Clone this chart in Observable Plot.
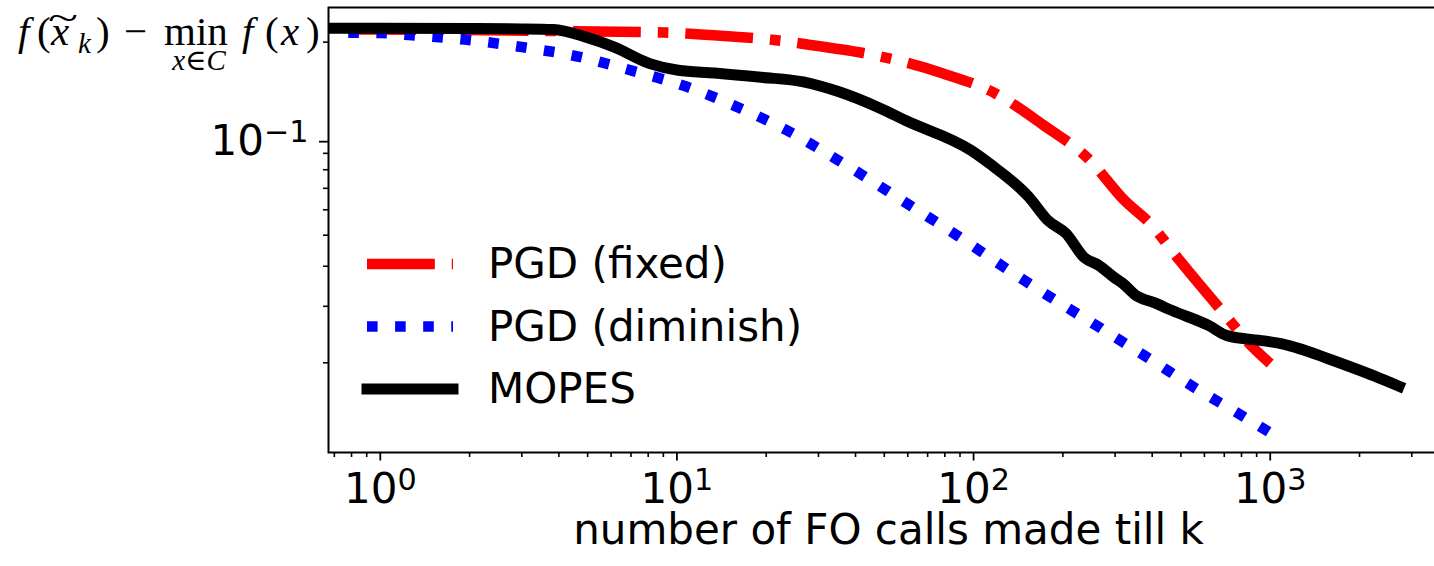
<!DOCTYPE html>
<html>
<head>
<meta charset="utf-8">
<script src="https://cdn.jsdelivr.net/npm/d3@7"></script>
<script src="https://cdn.jsdelivr.net/npm/@observablehq/plot@0.6"></script>
<style>
  html, body { margin: 0; padding: 0; background: white; overflow: hidden; width: 1434px; height: 566px; }
  #chart { position: relative; width: 1434px; height: 566px; overflow: hidden; }
  #chart svg { max-width: none !important; display: block; }
</style>
</head>
<body>
<div id="chart"></div>
<script>
// ---- data ----
const seriesNames = ["PGD (fixed)", "PGD (diminish)", "MOPES"];

const pgdFixedX = [0.78, 1, 4.52, 9.06, 14.0, 21.6, 33.6, 42.5, 51.5, 78.4, 118, 172, 243, 323, 394, 495, 687, 876, 1000];
const pgdFixedY = [0.219, 0.219, 0.2163, 0.2143, 0.2094, 0.2028, 0.1914, 0.1849, 0.1783, 0.160, 0.1386, 0.1102, 0.0868, 0.0641, 0.0543, 0.0417, 0.0290, 0.0223, 0.0199];

const pgdDimX = [0.78, 1, 1.25, 1.93, 3.0, 4.58, 7.05, 10.7, 16.0, 23.5, 34.7, 61.1, 88.0, 127, 183, 267, 388, 558, 817, 1000];
const pgdDimY = [0.214, 0.2136, 0.2105, 0.2037, 0.193, 0.1808, 0.163, 0.1456, 0.1255, 0.1061, 0.0860, 0.0619, 0.0499, 0.0397, 0.0319, 0.0257, 0.0207, 0.0167, 0.01355, 0.0121];

const mopesX = [0.5, 1, 2, 3, 3.83, 4.91, 6.15, 8.1, 10.1, 13.4, 19.2, 26.7, 30.6, 35.2, 48.8, 58.8, 98.1, 113, 154, 178, 205, 236, 265, 298, 319, 353, 406, 467, 622, 716, 953, 1097, 1262, 1543, 2240, 2718];
const mopesY = [0.221, 0.221, 0.2205, 0.22, 0.219, 0.2077, 0.193, 0.1714, 0.1634, 0.1603, 0.1554, 0.1503, 0.1457, 0.140, 0.124, 0.1141, 0.0919, 0.0837, 0.0656, 0.0556, 0.0506, 0.0426, 0.0402, 0.0369, 0.0353, 0.0324, 0.0308, 0.0291, 0.0261, 0.0243, 0.0234, 0.0229, 0.0221, 0.0207, 0.0182, 0.0169];

const xMajorTicks = [1, 10, 100, 1000];
const xMajorLabels = ["10^0", "10^1", "10^2", "10^3"];
const xMinorTicks = [0.7, 0.8, 0.9, 2, 3, 4, 5, 6, 7, 8, 9, 20, 30, 40, 50, 60, 70, 80, 90, 200, 300, 400, 500, 600, 700, 800, 900, 2000, 3000];
const yMajorTicks = [0.1];
const yMajorLabels = ["10^−1"];
const yMinorTicks = [0.02, 0.03, 0.04, 0.05, 0.06, 0.07, 0.08, 0.09, 0.2];
const xLabel = "number of FO calls made till k";

// ---- build tables ----
const zip = (xs, ys) => xs.map((x, i) => ({x, y: ys[i]}));
const fixedData = zip(pgdFixedX, pgdFixedY);
const dimData = zip(pgdDimX, pgdDimY);
const mopesData = zip(mopesX, mopesY);

const LW = 10.6;
const styles = [
  {stroke: "#ff0000", strokeWidth: LW, dash: `${6.4*LW},${1.6*LW},${1.0*LW},${1.6*LW}`, cap: "butt"},
  {stroke: "#0000ff", strokeWidth: LW, dash: `${1*LW},${1.65*LW}`, cap: "butt"},
  {stroke: "#000000", strokeWidth: 11, dash: null, cap: "square"}
];

const majorFmt = (labels, ticks) => d => labels[ticks.indexOf(d)] ?? "";

const plot = Plot.plot({
  width: 1448,
  height: 566,
  marginLeft: 328,
  marginRight: 0,
  marginTop: 7,
  marginBottom: 114,
  style: {fontFamily: "'DejaVu Sans', sans-serif", fontSize: "42px", background: "white", color: "black", maxWidth: "none"},
  x: {type: "log", domain: [0.669, 3990]},
  y: {type: "log", domain: [0.0105, 0.2565]},
  marks: [
    Plot.line(fixedData, {x: "x", y: "y", stroke: styles[0].stroke, strokeWidth: styles[0].strokeWidth, strokeDasharray: styles[0].dash, strokeLinecap: "butt", strokeLinejoin: "round", curve: "monotone-x", clip: true}),
    Plot.line(dimData, {x: "x", y: "y", stroke: styles[1].stroke, strokeWidth: styles[1].strokeWidth, strokeDasharray: styles[1].dash, strokeLinecap: "butt", strokeLinejoin: "round", curve: "monotone-x", clip: true}),
    Plot.line(mopesData, {x: "x", y: "y", stroke: styles[2].stroke, strokeWidth: styles[2].strokeWidth, strokeLinecap: "square", strokeLinejoin: "round", curve: "monotone-x", clip: true}),
    Plot.frame({stroke: "black", strokeWidth: 2}),
    Plot.axisX(xMinorTicks, {tickSize: 5, strokeWidth: 1.6, tickFormat: () => "", label: null}),
    Plot.axisX(xMajorTicks, {tickSize: 8.5, strokeWidth: 1.8, tickPadding: 12, tickFormat: majorFmt(xMajorLabels, xMajorTicks), label: null}),
    Plot.axisY(yMinorTicks, {tickSize: 5, strokeWidth: 1.6, tickFormat: () => "", label: null}),
    Plot.axisY(yMajorTicks, {tickSize: 9, strokeWidth: 1.8, tickPadding: 11, tickFormat: majorFmt(yMajorLabels, yMajorTicks), label: null, dy: 3}),
    Plot.text([xLabel], {frameAnchor: "bottom", dy: 91.5, fontSize: 42, fill: "black"})
  ]
});
plot.style.maxWidth = "none";
document.getElementById("chart").appendChild(plot);

const svg = d3.select(plot);

// superscripts in tick labels
svg.selectAll('g[aria-label$="tick label"] text').each(function () {
  const t = this.textContent;
  if (!t.includes("^")) return;
  const [b, e] = t.split("^");
  const s = d3.select(this);
  s.text(b);
  s.append("tspan").attr("dy", "-0.43em").attr("font-size", "0.72em").text(e);
});

// y-axis label (math expression)
const ylab = svg.append("g")
  .attr("font-family", "'Liberation Serif', 'DejaVu Serif', serif")
  .attr("font-size", 41)
  .attr("text-anchor", "start")
  .attr("fill", "black");
const yParts = [
  {t: "f", x: 18, it: true},
  {t: "(", x: 37},
  {t: "x", x: 51, it: true},
  {t: ")", x: 96},
  {t: "−", x: 124},
  {t: "min", x: 164},
  {t: "f", x: 242, it: true},
  {t: "(", x: 265},
  {t: "x", x: 281, it: true},
  {t: ")", x: 306}
];
const main = ylab.append("text").attr("y", 45);
yParts.forEach(p => {
  main.append("tspan").attr("x", p.x).attr("font-style", p.it ? "italic" : "normal").text(p.t);
});
ylab.append("text").attr("x", 78).attr("y", 53).attr("font-size", 29).attr("font-style", "italic").text("k");
ylab.append("text").attr("x", 48).attr("y", 30).attr("font-size", 36)
  .attr("textLength", 30).attr("lengthAdjust", "spacingAndGlyphs").text("~");
const sub = ylab.append("text").attr("x", 199).attr("y", 70).attr("font-size", 29).attr("text-anchor", "middle");
sub.append("tspan").attr("font-style", "italic").text("x");
sub.append("tspan").text("∈");
sub.append("tspan").attr("font-style", "italic").text("C");

// legend
const leg = svg.append("g").attr("font-family", "'DejaVu Sans', sans-serif").attr("font-size", 42).attr("text-anchor", "start");
seriesNames.forEach((name, i) => {
  const cy = 264 + 62.5 * i;
  const st = styles[i];
  const ln = leg.append("line")
    .attr("x1", 367).attr("x2", 453).attr("y1", cy).attr("y2", cy)
    .attr("stroke", st.stroke).attr("stroke-width", st.strokeWidth)
    .attr("stroke-linecap", st.cap);
  if (st.dash) ln.attr("stroke-dasharray", st.dash);
  leg.append("text").attr("x", 488).attr("y", cy + 14).attr("fill", "black").text(name);
});
</script>
</body>
</html>
